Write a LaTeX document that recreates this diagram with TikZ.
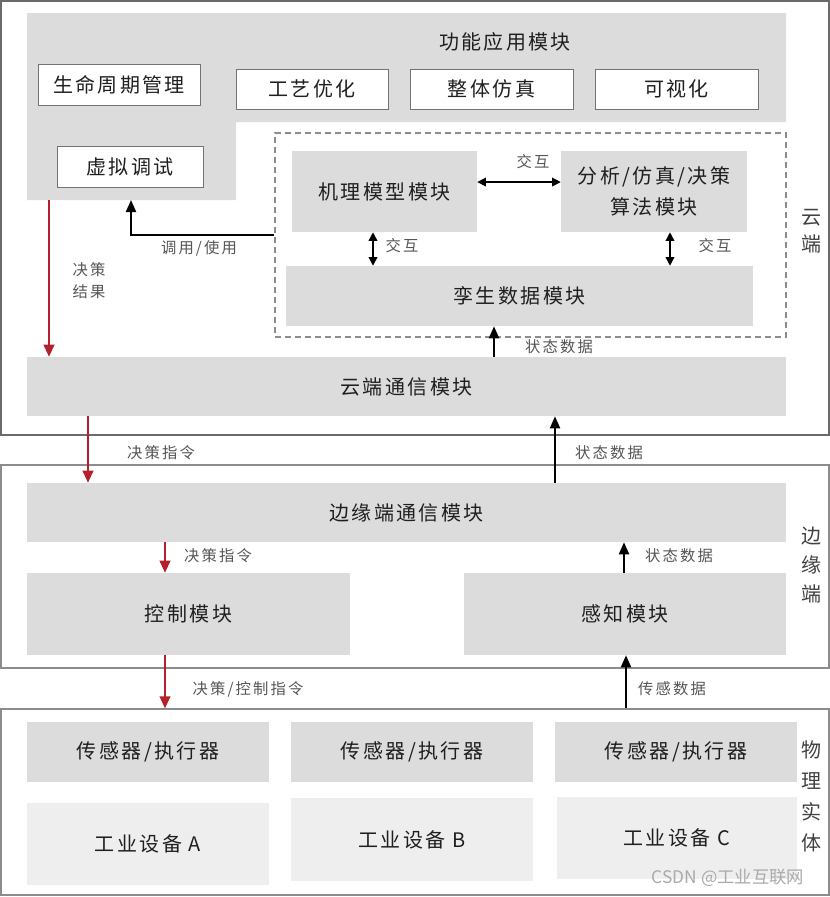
\documentclass[tikz,border=0pt]{standalone}
\usepackage{fontspec}
\setmainfont{Noto Sans CJK SC}
\newfontfamily\spacedcjk{Noto Sans CJK SC}[LetterSpace=12]
\newfontfamily\labcjk{Noto Sans CJK SC}[LetterSpace=14]
\usetikzlibrary{arrows.meta}
\definecolor{boxgray}{HTML}{DCDCDC}
\definecolor{lightgraybox}{HTML}{EEEEEE}
\definecolor{redarrow}{HTML}{B3212D}
\definecolor{labelgray}{HTML}{555555}
\definecolor{framegray}{HTML}{6A6A6A}
\definecolor{watergray}{HTML}{AAAAAA}
\begin{document}
\begin{tikzpicture}[x=0.75pt,y=-0.75pt,
  wh/.style 2 args={minimum width=#1*0.75pt, minimum height=#2*0.75pt},
  mainfont/.style={font=\spacedcjk\fontsize{15}{20}\selectfont},
  gbox/.style={fill=boxgray, inner sep=0pt, text=black!88, mainfont},
  wbox/.style={fill=white, draw=black!55, line width=0.6pt, inner sep=0pt, text=black!88, mainfont},
  lbox/.style={fill=lightgraybox, inner sep=0pt, text=black!88, mainfont},
  lab/.style={text=labelgray, inner sep=1pt, font=\labcjk\fontsize{11.5}{16.5}\selectfont},
  sidelab/.style={text=black!75, align=center, inner sep=0pt},
  frame/.style={draw=framegray, line width=1pt, inner sep=0pt},
  frame2/.style={draw=black!45, line width=0.9pt, inner sep=0pt},
  barr/.style={line width=1.5pt, -{Triangle[length=9pt,width=7.5pt]}},
  rarr/.style={line width=1.3pt, draw=redarrow, -{Triangle[length=9pt,width=8pt,fill=redarrow]}},
  darr/.style={line width=1.1pt, {Triangle[length=6.5pt,width=6.5pt]}-{Triangle[length=6.5pt,width=6.5pt]}}
]
\useasboundingbox (0,0) rectangle (830,897);
% frames
\node[frame, wh={828}{434}] (cloud) at (415,218) {};
\node[frame2, wh={828}{203}] (edge) at (415,566.5) {};
\node[frame2, wh={828}{186}] (phys) at (415,802) {};
% function application L-shape
\fill[boxgray] (27,13) -- (786,13) -- (786,122) -- (236,122) -- (236,200) -- (27,200) -- cycle;
\node[text=black!88, mainfont] (fn) at (505,42) {功能应用模块};
\node[wbox, wh={162}{41}] (lc) at (119,84.5) {生命周期管理};
\node[wbox, wh={152}{40}] (gy) at (312,89) {工艺优化};
\node[wbox, wh={163}{40}] (zt) at (491.5,89) {整体仿真};
\node[wbox, wh={163}{40}] (ksh) at (676.5,89) {可视化};
\node[wbox, wh={146}{41}] (xn) at (130,166.5) {虚拟调试};
% dashed twin box
\node[draw=black!45, line width=0.8pt, dash pattern=on 4.5pt off 3pt, inner sep=0pt, wh={511}{204}] (dbox) at (530.5,235) {};
\node[gbox, wh={185}{81}] (jl) at (384.5,191.5) {机理模型模块};
\node[gbox, wh={186}{81}, align=center, font=\spacedcjk\fontsize{15}{23}\selectfont] (fx) at (654,191.5) {分析/仿真/决策\\算法模块};
\node[gbox, wh={467}{60}] (lsh) at (519.5,296) {孪生数据模块};
\node[gbox, wh={759}{59}] (yt) at (406.5,386.5) {云端通信模块};
% edge
\node[gbox, wh={759}{59}] (by) at (406.5,512.5) {边缘端通信模块};
\node[gbox, wh={323}{82}] (kz) at (188.5,614) {控制模块};
\node[gbox, wh={322}{82}] (gz) at (625,614) {感知模块};
% physical
\node[gbox, wh={242}{60}] (sa) at (148,752) {传感器/执行器};
\node[gbox, wh={242}{60}] (sb) at (412,752) {传感器/执行器};
\node[gbox, wh={242}{60}] (sc) at (676,752) {传感器/执行器};
\node[lbox, wh={242}{82}] (ea) at (148,844) {工业设备\ A};
\node[lbox, wh={242}{83}] (eb) at (412,839.5) {工业设备\ B};
\node[lbox, wh={240}{82}] (ec) at (677,838) {工业设备\ C};
% side labels
\node[sidelab, font=\fontsize{15}{20}\selectfont] (lcloud) at (811,231.5) {云\\端};
\node[sidelab, font=\fontsize{15}{22}\selectfont] (ledge) at (811,565) {边\\缘\\端};
\node[sidelab, font=\fontsize{15}{23.2}\selectfont] (lphys) at (811,796.5) {物\\理\\实\\体};
% coordinates
\coordinate (lbot) at (49,200);
\coordinate (xnin) at (131,200);
\coordinate (turn) at (131,235);
\coordinate (v1) at (373,250);
\coordinate (v2) at (670,250);
\coordinate (a1) at (88,450);
\coordinate (a2) at (555,450);
\coordinate (a3) at (165,560);
\coordinate (a4) at (624,560);
\coordinate (a5) at (626,690);
\coordinate (a6) at (494,340);
% connectors
\draw[barr] (dbox.west |- turn) -- (turn) -- (xnin);
\node[lab] (l_dy) at (199,248) {调用/使用};
\draw[darr] ([yshift=7.1pt]jl.east) -- ([yshift=7.1pt]fx.west);
\node[lab] (l_h1) at (533,162) {交互};
\draw[darr] (v1 |- jl.south) -- (v1 |- lsh.north);
\node[lab] (l_h2) at (402,246) {交互};
\draw[darr] (v2 |- fx.south) -- (v2 |- lsh.north);
\node[lab] (l_h3) at (715,246) {交互};
\draw[barr] (a6 |- yt.north) -- (a6 |- lsh.south);
\node[lab] (l_s1) at (559,347) {状态数据};
\draw[rarr] (lbot) -- (lbot |- yt.north);
\node[lab, align=left] (l_jg) at (89,281) {决策\\结果};
\draw[rarr] (a1 |- yt.south) -- (a1 |- by.north);
\node[lab] (l_j1) at (161,453) {决策指令};
\draw[barr] (a2 |- by.north) -- (a2 |- yt.south);
\node[lab] (l_s2) at (609,453) {状态数据};
\draw[rarr] (a3 |- by.south) -- (a3 |- kz.north);
\node[lab] (l_j2) at (218,556) {决策指令};
\draw[barr] (a4 |- gz.north) -- (a4 |- by.south);
\node[lab] (l_s3) at (679,556) {状态数据};
\draw[rarr] (a3 |- kz.south) -- (a3 |- phys.north);
\node[lab] (l_j3) at (248,689) {决策/控制指令};
\draw[barr] (a5 |- phys.north) -- (a5 |- gz.south);
\node[lab] (l_cg) at (672,689) {传感数据};
% watermark
\node[text=watergray, font=\fontsize{13}{15}\selectfont, inner sep=0pt] (wm) at (728,878) {CSDN @工业互联网};
\end{tikzpicture}
\end{document}
